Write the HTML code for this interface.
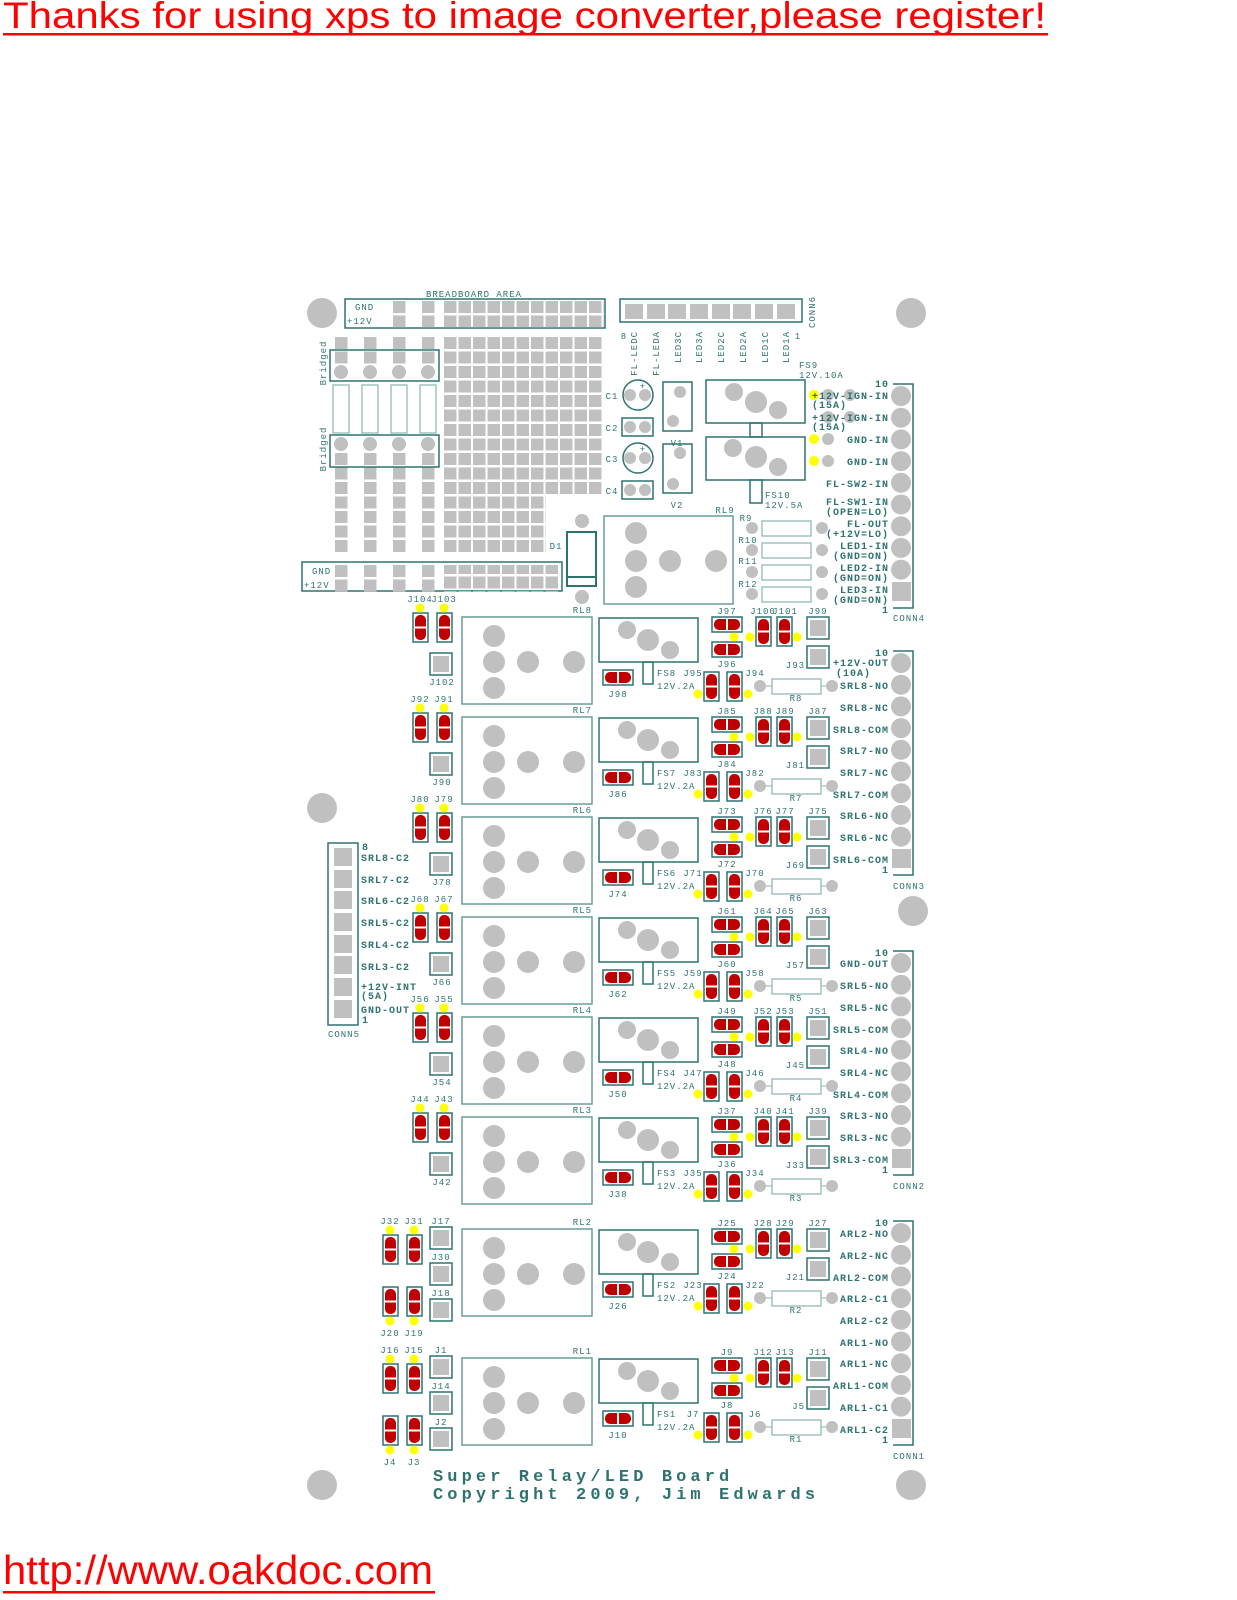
<!DOCTYPE html>
<html><head><meta charset="utf-8"><style>
html,body{margin:0;padding:0;background:#fff;width:1237px;height:1600px;overflow:hidden}
svg{display:block}
.t{font-family:"Liberation Mono",monospace;font-size:9px;fill:#2e7370;letter-spacing:1px;text-anchor:middle}
.c{font-family:"Liberation Mono",monospace;font-size:10px;font-weight:bold;fill:#2e7370;letter-spacing:1px;text-anchor:end}
.s{text-anchor:start}.e{text-anchor:end}
.hdr{font-family:"Liberation Sans",sans-serif;fill:#ff0000}
</style></head><body>
<svg width="1237" height="1600" viewBox="0 0 1237 1600" xmlns="http://www.w3.org/2000/svg">
<defs>
<pattern id="bb" patternUnits="userSpaceOnUse" x="444" y="337" width="14.5" height="14.5"><rect width="12.5" height="12" fill="#c0c0c0"/></pattern>
<pattern id="bt" patternUnits="userSpaceOnUse" x="444" y="301" width="14.5" height="14.5"><rect width="12.5" height="12" fill="#c0c0c0"/></pattern>
<pattern id="st" patternUnits="userSpaceOnUse" x="335" y="337" width="29" height="14.5"><rect width="12.5" height="12" fill="#c0c0c0"/></pattern>
<pattern id="st2" patternUnits="userSpaceOnUse" x="335" y="565" width="29" height="14.5"><rect width="12.5" height="12" fill="#c0c0c0"/></pattern>
<g id="vp"><rect x="0" y="0" width="15" height="29" fill="#fff" stroke="#2e7370" stroke-width="1.5"/><rect x="2" y="2" width="11" height="25" rx="5" fill="#c00000"/><rect x="2" y="13.5" width="11" height="2" fill="#fff"/></g>
<g id="hp"><rect x="0" y="0" width="30" height="15" fill="#fff" stroke="#2e7370" stroke-width="1.5"/><rect x="2" y="2" width="26" height="11" rx="5" fill="#c00000"/><rect x="14" y="2" width="2" height="11" fill="#fff"/></g>
<g id="sq"><rect x="0" y="0" width="22" height="22" fill="#fff" stroke="#2e7370" stroke-width="1.5"/><rect x="3" y="3" width="16" height="16" fill="#c0c0c0"/></g>
<g id="rb">
<rect x="462" y="617" width="130" height="87" fill="none" stroke="#6a9c99" stroke-width="1.5"/>
<circle cx="494" cy="636" r="11" fill="#c0c0c0"/><circle cx="494" cy="662" r="11" fill="#c0c0c0"/><circle cx="494" cy="688" r="11" fill="#c0c0c0"/>
<circle cx="528" cy="662" r="11" fill="#c0c0c0"/><circle cx="574" cy="662" r="11" fill="#c0c0c0"/>
<rect x="599" y="618" width="99" height="44" fill="none" stroke="#2e7370" stroke-width="1.5"/>
<circle cx="627" cy="630" r="9" fill="#c0c0c0"/><circle cx="648" cy="640" r="11" fill="#c0c0c0"/><circle cx="670" cy="650" r="9" fill="#c0c0c0"/>
<rect x="643" y="662" width="10" height="22" fill="none" stroke="#2e7370" stroke-width="1.5"/>
<use href="#hp" x="603" y="670"/>
<use href="#hp" x="712" y="617"/><use href="#hp" x="712" y="642"/>
<use href="#vp" x="756" y="617"/><use href="#vp" x="777" y="617"/>
<circle cx="734" cy="637" r="4.5" fill="#ffff00"/><circle cx="750" cy="637" r="4.5" fill="#ffff00"/><circle cx="797" cy="637" r="4.5" fill="#ffff00"/>
<use href="#sq" x="807" y="617"/><use href="#sq" x="807" y="646"/>
<use href="#vp" x="704" y="672"/><use href="#vp" x="727" y="672"/>
<circle cx="698" cy="694" r="4.5" fill="#ffff00"/><circle cx="748" cy="694" r="4.5" fill="#ffff00"/>
<circle cx="760" cy="686" r="6" fill="#c0c0c0"/><line x1="766" y1="686" x2="772" y2="686" stroke="#8ab3b0"/>
<rect x="772" y="679" width="49" height="15" fill="none" stroke="#8ab3b0" stroke-width="1.2"/>
<line x1="821" y1="686" x2="826" y2="686" stroke="#8ab3b0"/><circle cx="832" cy="686" r="6" fill="#c0c0c0"/>
</g>
<g id="lb">
<use href="#vp" x="413" y="613"/><use href="#vp" x="437" y="613"/>
<circle cx="420" cy="608" r="4.5" fill="#ffff00"/><circle cx="444" cy="608" r="4.5" fill="#ffff00"/>
<use href="#sq" x="430" y="653"/>
</g>
<g id="l2">
<use href="#vp" x="383" y="1235"/><use href="#vp" x="407" y="1235"/>
<circle cx="390" cy="1230" r="4.5" fill="#ffff00"/><circle cx="414" cy="1230" r="4.5" fill="#ffff00"/>
<use href="#sq" x="430" y="1227"/><use href="#sq" x="430" y="1263"/><use href="#sq" x="430" y="1299"/>
<use href="#vp" x="383" y="1287"/><use href="#vp" x="407" y="1287"/>
<circle cx="390" cy="1321" r="4.5" fill="#ffff00"/><circle cx="414" cy="1321" r="4.5" fill="#ffff00"/>
</g>
<g id="cn">
<path d="M893 -12 H913 V212 H893" fill="none" stroke="#2e7370" stroke-width="1.5"/>
<circle cx="901" cy="0" r="10" fill="#c0c0c0"/><circle cx="901" cy="21.7" r="10" fill="#c0c0c0"/><circle cx="901" cy="43.4" r="10" fill="#c0c0c0"/><circle cx="901" cy="65.1" r="10" fill="#c0c0c0"/><circle cx="901" cy="86.8" r="10" fill="#c0c0c0"/><circle cx="901" cy="108.5" r="10" fill="#c0c0c0"/><circle cx="901" cy="130.2" r="10" fill="#c0c0c0"/><circle cx="901" cy="151.9" r="10" fill="#c0c0c0"/><circle cx="901" cy="173.6" r="10" fill="#c0c0c0"/>
<rect x="892" y="186" width="19" height="19" fill="#c0c0c0"/>
</g>
</defs>

<text class="hdr" x="3" y="28" font-size="37" textLength="1043" lengthAdjust="spacingAndGlyphs">Thanks for using xps to image converter,please register!</text>
<rect x="3" y="33" width="1045" height="2.5" fill="#ff0000"/>
<text class="hdr" x="3" y="1584" font-size="41" textLength="430" lengthAdjust="spacingAndGlyphs">http://www.oakdoc.com</text>
<rect x="3" y="1591" width="432" height="2.5" fill="#ff0000"/>

<g fill="#c0c0c0">
<circle cx="322" cy="313" r="15"/><circle cx="911" cy="313" r="15"/><circle cx="322" cy="808" r="15"/><circle cx="913" cy="911" r="15"/><circle cx="322" cy="1485" r="15"/><circle cx="911" cy="1485" r="15"/>
</g>

<text class="t" x="474" y="297">BREADBOARD AREA</text>
<rect x="345" y="299" width="260" height="29" fill="none" stroke="#2e7370" stroke-width="1.5"/>
<text class="t s" x="355" y="310">GND</text><text class="t s" x="347" y="324">+12V</text>
<rect x="393" y="301" width="12.5" height="12" fill="#c0c0c0"/><rect x="393" y="315.5" width="12.5" height="12" fill="#c0c0c0"/>
<rect x="422" y="301" width="12.5" height="12" fill="#c0c0c0"/><rect x="422" y="315.5" width="12.5" height="12" fill="#c0c0c0"/>
<rect x="444" y="301" width="160" height="27" fill="url(#bt)"/>
<rect x="444" y="337" width="159" height="158" fill="url(#bb)"/>
<rect x="444" y="496" width="102" height="58" fill="url(#bb)"/>
<rect x="335" y="337" width="116" height="27" fill="url(#st)"/>
<rect x="335" y="453" width="116" height="100" fill="url(#st)"/>
<rect x="330" y="350" width="109" height="31" fill="none" stroke="#2e7370" stroke-width="1.5"/>
<rect x="330" y="435" width="109" height="32" fill="none" stroke="#2e7370" stroke-width="1.5"/>
<g fill="#c0c0c0"><circle cx="341" cy="372" r="7"/><circle cx="370" cy="372" r="7"/><circle cx="399" cy="372" r="7"/><circle cx="428" cy="372" r="7"/>
<circle cx="341" cy="444" r="7"/><circle cx="370" cy="444" r="7"/><circle cx="399" cy="444" r="7"/><circle cx="428" cy="444" r="7"/></g>
<g fill="none" stroke="#8ab3b0" stroke-width="1.2">
<rect x="333" y="385" width="16" height="48"/><rect x="362" y="385" width="16" height="48"/><rect x="391" y="385" width="16" height="48"/><rect x="420" y="385" width="16" height="48"/></g>
<text class="t" transform="translate(326,363) rotate(-90)">Bridged</text>
<text class="t" transform="translate(326,449) rotate(-90)">Bridged</text>
<rect x="302" y="562" width="260" height="29" fill="none" stroke="#2e7370" stroke-width="1.5"/>
<text class="t s" x="312" y="574">GND</text><text class="t s" x="304" y="588">+12V</text>
<rect x="335" y="565" width="116" height="27" fill="url(#st2)"/>
<rect x="444" y="565" width="116" height="27" fill="url(#bt)"/>
<rect x="567" y="532" width="29" height="54" fill="none" stroke="#2e7370" stroke-width="2"/>
<line x1="567" y1="577" x2="596" y2="577" stroke="#2e7370" stroke-width="2"/>
<circle cx="582" cy="521" r="7" fill="#c0c0c0"/><circle cx="582" cy="597" r="7" fill="#c0c0c0"/>
<text class="t" x="556" y="549">D1</text>

<rect x="620" y="299" width="182" height="23" fill="none" stroke="#2e7370" stroke-width="1.5"/>
<g fill="#c0c0c0"><rect x="625" y="304" width="18" height="15"/><rect x="647" y="304" width="18" height="15"/><rect x="668" y="304" width="18" height="15"/><rect x="690" y="304" width="18" height="15"/><rect x="712" y="304" width="18" height="15"/><rect x="733" y="304" width="18" height="15"/><rect x="755" y="304" width="18" height="15"/><rect x="777" y="304" width="18" height="15"/></g>
<text class="t" transform="translate(815,312) rotate(-90)" fill="#6a9c99">CONN6</text>
<text class="t" x="624" y="339">8</text><text class="t" x="798" y="339">1</text>
<text class="t e" transform="translate(637,331) rotate(-90)">FL-LEDC</text>
<text class="t e" transform="translate(659,331) rotate(-90)">FL-LEDA</text>
<text class="t e" transform="translate(681,331) rotate(-90)">LED3C</text>
<text class="t e" transform="translate(702,331) rotate(-90)">LED3A</text>
<text class="t e" transform="translate(724,331) rotate(-90)">LED2C</text>
<text class="t e" transform="translate(746,331) rotate(-90)">LED2A</text>
<text class="t e" transform="translate(768,331) rotate(-90)">LED1C</text>
<text class="t e" transform="translate(789,331) rotate(-90)">LED1A</text>
<circle cx="638" cy="395" r="15" fill="none" stroke="#2e7370" stroke-width="1.5"/>
<circle cx="630" cy="395" r="6" fill="#c0c0c0"/><circle cx="645" cy="395" r="6" fill="#c0c0c0"/>
<text class="t" x="643" y="389">+</text><text class="t" x="612" y="399">C1</text>
<rect x="622" y="418" width="31" height="18" fill="none" stroke="#2e7370" stroke-width="1.5"/>
<circle cx="630" cy="427" r="6" fill="#c0c0c0"/><circle cx="645" cy="427" r="6" fill="#c0c0c0"/><text class="t" x="612" y="431">C2</text>
<circle cx="638" cy="458" r="15" fill="none" stroke="#2e7370" stroke-width="1.5"/>
<circle cx="630" cy="458" r="6" fill="#c0c0c0"/><circle cx="645" cy="458" r="6" fill="#c0c0c0"/>
<text class="t" x="643" y="452">+</text><text class="t" x="612" y="462">C3</text>
<rect x="622" y="481" width="31" height="18" fill="none" stroke="#2e7370" stroke-width="1.5"/>
<circle cx="630" cy="490" r="6" fill="#c0c0c0"/><circle cx="645" cy="490" r="6" fill="#c0c0c0"/><text class="t" x="612" y="494">C4</text>
<rect x="663" y="382" width="29" height="49" fill="none" stroke="#2e7370" stroke-width="1.5"/>
<circle cx="680" cy="392" r="6" fill="#c0c0c0"/><circle cx="673" cy="421" r="6" fill="#c0c0c0"/><text class="t" x="677" y="446">V1</text>
<rect x="663" y="444" width="29" height="49" fill="none" stroke="#2e7370" stroke-width="1.5"/>
<circle cx="680" cy="453" r="6" fill="#c0c0c0"/><circle cx="673" cy="484" r="6" fill="#c0c0c0"/><text class="t" x="677" y="508">V2</text>
<rect x="706" y="380" width="99" height="43" fill="none" stroke="#2e7370" stroke-width="1.5"/>
<circle cx="734" cy="392" r="9" fill="#c0c0c0"/><circle cx="756" cy="402" r="11" fill="#c0c0c0"/><circle cx="778" cy="410" r="9" fill="#c0c0c0"/>
<rect x="750" y="423" width="12" height="14" fill="none" stroke="#2e7370" stroke-width="1.5"/>
<rect x="706" y="437" width="99" height="43" fill="none" stroke="#2e7370" stroke-width="1.5"/>
<circle cx="733" cy="448" r="9" fill="#c0c0c0"/><circle cx="756" cy="457" r="11" fill="#c0c0c0"/><circle cx="778" cy="467" r="9" fill="#c0c0c0"/>
<rect x="750" y="480" width="12" height="23" fill="none" stroke="#2e7370" stroke-width="1.5"/>
<text class="t s" x="799" y="368">FS9</text><text class="t s" x="799" y="378">12V.10A</text>
<text class="t s" x="765" y="498">FS10</text><text class="t s" x="765" y="508">12V.5A</text>
<rect x="604" y="516" width="129" height="88" fill="none" stroke="#6a9c99" stroke-width="1.5"/>
<g fill="#c0c0c0"><circle cx="636" cy="533" r="11"/><circle cx="636" cy="561" r="11"/><circle cx="636" cy="587" r="11"/><circle cx="670" cy="561" r="11"/><circle cx="716" cy="561" r="11"/></g>
<text class="t" x="725" y="513">RL9</text>
<g>
<circle cx="752" cy="528" r="6" fill="#c0c0c0"/><rect x="762" y="521" width="49" height="15" fill="none" stroke="#8ab3b0" stroke-width="1.2"/><circle cx="822" cy="528" r="6" fill="#c0c0c0"/>
<circle cx="752" cy="550" r="6" fill="#c0c0c0"/><rect x="762" y="543" width="49" height="15" fill="none" stroke="#8ab3b0" stroke-width="1.2"/><circle cx="822" cy="550" r="6" fill="#c0c0c0"/>
<circle cx="752" cy="572" r="6" fill="#c0c0c0"/><rect x="762" y="565" width="49" height="15" fill="none" stroke="#8ab3b0" stroke-width="1.2"/><circle cx="822" cy="572" r="6" fill="#c0c0c0"/>
<circle cx="752" cy="594" r="6" fill="#c0c0c0"/><rect x="762" y="587" width="49" height="15" fill="none" stroke="#8ab3b0" stroke-width="1.2"/><circle cx="822" cy="594" r="6" fill="#c0c0c0"/>
</g>
<text class="t" x="746" y="521">R9</text><text class="t" x="748" y="543">R10</text><text class="t" x="748" y="564">R11</text><text class="t" x="748" y="587">R12</text>

<use href="#cn" transform="translate(0,396)"/>
<circle cx="814" cy="395" r="5" fill="#ffff00"/><circle cx="814" cy="439" r="5" fill="#ffff00"/><circle cx="814" cy="461" r="5" fill="#ffff00"/>
<circle cx="828" cy="439" r="6" fill="#c0c0c0"/><circle cx="828" cy="461" r="6" fill="#c0c0c0"/>
<circle cx="828" cy="395" r="6" fill="#c0c0c0"/><circle cx="850" cy="395" r="6" fill="#c0c0c0"/><circle cx="828" cy="417" r="6" fill="#c0c0c0"/><circle cx="850" cy="417" r="6" fill="#c0c0c0"/>
<text class="c" x="889" y="387">10</text>
<text class="c" x="889" y="399">+12V-IGN-IN</text><text class="c s" x="812" y="408">(15A)</text>
<text class="c" x="889" y="421">+12V-IGN-IN</text><text class="c s" x="812" y="430">(15A)</text>
<text class="c" x="889" y="443">GND-IN</text>
<text class="c" x="889" y="465">GND-IN</text>
<text class="c" x="889" y="487">FL-SW2-IN</text>
<text class="c" x="889" y="505">FL-SW1-IN</text><text class="c" x="889" y="515">(OPEN=LO)</text>
<text class="c" x="889" y="527">FL-OUT</text><text class="c" x="889" y="537">(+12V=LO)</text>
<text class="c" x="889" y="549">LED1-IN</text><text class="c" x="889" y="559">(GND=ON)</text>
<text class="c" x="889" y="571">LED2-IN</text><text class="c" x="889" y="581">(GND=ON)</text>
<text class="c" x="889" y="593">LED3-IN</text><text class="c" x="889" y="603">(GND=ON)</text>
<text class="c" x="889" y="613">1</text>
<text class="t s" x="893" y="621">CONN4</text>

<use href="#cn" transform="translate(0,663)"/>
<text class="c" x="889" y="656">10</text>
<text class="c" x="889" y="666">+12V-OUT</text><text class="c s" x="836" y="676">(10A)</text>
<text class="c" x="889" y="689">SRL8-NO</text><text class="c" x="889" y="711">SRL8-NC</text><text class="c" x="889" y="733">SRL8-COM</text>
<text class="c" x="889" y="754">SRL7-NO</text><text class="c" x="889" y="776">SRL7-NC</text><text class="c" x="889" y="798">SRL7-COM</text>
<text class="c" x="889" y="819">SRL6-NO</text><text class="c" x="889" y="841">SRL6-NC</text><text class="c" x="889" y="863">SRL6-COM</text>
<text class="c" x="889" y="873">1</text>
<text class="t s" x="893" y="889">CONN3</text>

<use href="#cn" transform="translate(0,963)"/>
<text class="c" x="889" y="956">10</text>
<text class="c" x="889" y="967">GND-OUT</text>
<text class="c" x="889" y="989">SRL5-NO</text><text class="c" x="889" y="1011">SRL5-NC</text><text class="c" x="889" y="1033">SRL5-COM</text>
<text class="c" x="889" y="1054">SRL4-NO</text><text class="c" x="889" y="1076">SRL4-NC</text><text class="c" x="889" y="1098">SRL4-COM</text>
<text class="c" x="889" y="1119">SRL3-NO</text><text class="c" x="889" y="1141">SRL3-NC</text><text class="c" x="889" y="1163">SRL3-COM</text>
<text class="c" x="889" y="1173">1</text>
<text class="t s" x="893" y="1189">CONN2</text>

<use href="#cn" transform="translate(0,1233)"/>
<text class="c" x="889" y="1226">10</text>
<text class="c" x="889" y="1237">ARL2-NO</text><text class="c" x="889" y="1259">ARL2-NC</text><text class="c" x="889" y="1281">ARL2-COM</text>
<text class="c" x="889" y="1302">ARL2-C1</text><text class="c" x="889" y="1324">ARL2-C2</text>
<text class="c" x="889" y="1346">ARL1-NO</text><text class="c" x="889" y="1367">ARL1-NC</text><text class="c" x="889" y="1389">ARL1-COM</text>
<text class="c" x="889" y="1411">ARL1-C1</text><text class="c" x="889" y="1433">ARL1-C2</text>
<text class="c" x="889" y="1443">1</text>
<text class="t s" x="893" y="1459">CONN1</text>

<rect x="328" y="843" width="30" height="182" fill="none" stroke="#2e7370" stroke-width="1.5"/>
<g fill="#c0c0c0"><rect x="334" y="848" width="18" height="18"/><rect x="334" y="870" width="18" height="18"/><rect x="334" y="891" width="18" height="18"/><rect x="334" y="913" width="18" height="18"/><rect x="334" y="935" width="18" height="18"/><rect x="334" y="956" width="18" height="18"/><rect x="334" y="978" width="18" height="18"/><rect x="334" y="1000" width="18" height="18"/></g>
<text class="c s" x="362" y="850">8</text>
<text class="c s" x="361" y="861">SRL8-C2</text><text class="c s" x="361" y="883">SRL7-C2</text><text class="c s" x="361" y="904">SRL6-C2</text>
<text class="c s" x="361" y="926">SRL5-C2</text><text class="c s" x="361" y="948">SRL4-C2</text><text class="c s" x="361" y="970">SRL3-C2</text>
<text class="c s" x="361" y="990">+12V-INT</text><text class="c s" x="361" y="999">(5A)</text>
<text class="c s" x="361" y="1013">GND-OUT</text><text class="c s" x="362" y="1023">1</text>
<text class="t" x="344" y="1037" fill="#6a9c99">CONN5</text>

<use href="#rb"/><use href="#rb" y="100"/><use href="#rb" y="200"/><use href="#rb" y="300"/><use href="#rb" y="400"/><use href="#rb" y="500"/><use href="#rb" y="612"/><use href="#rb" y="741"/>
<use href="#lb"/><use href="#lb" y="100"/><use href="#lb" y="200"/><use href="#lb" y="300"/><use href="#lb" y="400"/><use href="#lb" y="500"/>
<use href="#l2"/><use href="#l2" y="129"/>

<g class="t">
<text x="420" y="602">J104</text><text x="444" y="602">J103</text><text x="442" y="685">J102</text>
<text x="420" y="702">J92</text><text x="444" y="702">J91</text><text x="442" y="785">J90</text>
<text x="420" y="802">J80</text><text x="444" y="802">J79</text><text x="442" y="885">J78</text>
<text x="420" y="902">J68</text><text x="444" y="902">J67</text><text x="442" y="985">J66</text>
<text x="420" y="1002">J56</text><text x="444" y="1002">J55</text><text x="442" y="1085">J54</text>
<text x="420" y="1102">J44</text><text x="444" y="1102">J43</text><text x="442" y="1185">J42</text>
<text x="390" y="1224">J32</text><text x="414" y="1224">J31</text><text x="441" y="1224">J17</text><text x="441" y="1260">J30</text><text x="441" y="1296">J18</text><text x="390" y="1336">J20</text><text x="414" y="1336">J19</text>
<text x="390" y="1353">J16</text><text x="414" y="1353">J15</text><text x="441" y="1353">J1</text><text x="441" y="1389">J14</text><text x="441" y="1425">J2</text><text x="390" y="1465">J4</text><text x="414" y="1465">J3</text>
</g>

<g class="t">
<g><text class="t e" x="592" y="613">RL8</text><text x="727" y="614">J97</text><text x="727" y="667">J96</text><text x="763" y="614">J100</text><text x="785" y="614">J101</text><text x="818" y="614">J99</text><text class="t e" x="805" y="668">J93</text><text x="693" y="676">J95</text><text x="755" y="676">J94</text><text x="796" y="701">R8</text><text x="618" y="697">J98</text><text class="t s" x="657" y="676">FS8</text><text class="t s" x="657" y="689">12V.2A</text></g>
<g transform="translate(0,100)"><text class="t e" x="592" y="613">RL7</text><text x="727" y="614">J85</text><text x="727" y="667">J84</text><text x="763" y="614">J88</text><text x="785" y="614">J89</text><text x="818" y="614">J87</text><text class="t e" x="805" y="668">J81</text><text x="693" y="676">J83</text><text x="755" y="676">J82</text><text x="796" y="701">R7</text><text x="618" y="697">J86</text><text class="t s" x="657" y="676">FS7</text><text class="t s" x="657" y="689">12V.2A</text></g>
<g transform="translate(0,200)"><text class="t e" x="592" y="613">RL6</text><text x="727" y="614">J73</text><text x="727" y="667">J72</text><text x="763" y="614">J76</text><text x="785" y="614">J77</text><text x="818" y="614">J75</text><text class="t e" x="805" y="668">J69</text><text x="693" y="676">J71</text><text x="755" y="676">J70</text><text x="796" y="701">R6</text><text x="618" y="697">J74</text><text class="t s" x="657" y="676">FS6</text><text class="t s" x="657" y="689">12V.2A</text></g>
<g transform="translate(0,300)"><text class="t e" x="592" y="613">RL5</text><text x="727" y="614">J61</text><text x="727" y="667">J60</text><text x="763" y="614">J64</text><text x="785" y="614">J65</text><text x="818" y="614">J63</text><text class="t e" x="805" y="668">J57</text><text x="693" y="676">J59</text><text x="755" y="676">J58</text><text x="796" y="701">R5</text><text x="618" y="697">J62</text><text class="t s" x="657" y="676">FS5</text><text class="t s" x="657" y="689">12V.2A</text></g>
<g transform="translate(0,400)"><text class="t e" x="592" y="613">RL4</text><text x="727" y="614">J49</text><text x="727" y="667">J48</text><text x="763" y="614">J52</text><text x="785" y="614">J53</text><text x="818" y="614">J51</text><text class="t e" x="805" y="668">J45</text><text x="693" y="676">J47</text><text x="755" y="676">J46</text><text x="796" y="701">R4</text><text x="618" y="697">J50</text><text class="t s" x="657" y="676">FS4</text><text class="t s" x="657" y="689">12V.2A</text></g>
<g transform="translate(0,500)"><text class="t e" x="592" y="613">RL3</text><text x="727" y="614">J37</text><text x="727" y="667">J36</text><text x="763" y="614">J40</text><text x="785" y="614">J41</text><text x="818" y="614">J39</text><text class="t e" x="805" y="668">J33</text><text x="693" y="676">J35</text><text x="755" y="676">J34</text><text x="796" y="701">R3</text><text x="618" y="697">J38</text><text class="t s" x="657" y="676">FS3</text><text class="t s" x="657" y="689">12V.2A</text></g>
<g transform="translate(0,612)"><text class="t e" x="592" y="613">RL2</text><text x="727" y="614">J25</text><text x="727" y="667">J24</text><text x="763" y="614">J28</text><text x="785" y="614">J29</text><text x="818" y="614">J27</text><text class="t e" x="805" y="668">J21</text><text x="693" y="676">J23</text><text x="755" y="676">J22</text><text x="796" y="701">R2</text><text x="618" y="697">J26</text><text class="t s" x="657" y="676">FS2</text><text class="t s" x="657" y="689">12V.2A</text></g>
<g transform="translate(0,741)"><text class="t e" x="592" y="613">RL1</text><text x="727" y="614">J9</text><text x="727" y="667">J8</text><text x="763" y="614">J12</text><text x="785" y="614">J13</text><text x="818" y="614">J11</text><text class="t e" x="805" y="668">J5</text><text x="693" y="676">J7</text><text x="755" y="676">J6</text><text x="796" y="701">R1</text><text x="618" y="697">J10</text><text class="t s" x="657" y="676">FS1</text><text class="t s" x="657" y="689">12V.2A</text></g>
</g>

<text x="433" y="1481" font-family="Liberation Mono, monospace" font-size="17" font-weight="bold" letter-spacing="4.1" fill="#2e7370">Super Relay/LED Board</text>
<text x="433" y="1499" font-family="Liberation Mono, monospace" font-size="17" font-weight="bold" letter-spacing="4.1" fill="#2e7370">Copyright 2009, Jim Edwards</text>
</svg>
</body></html>
